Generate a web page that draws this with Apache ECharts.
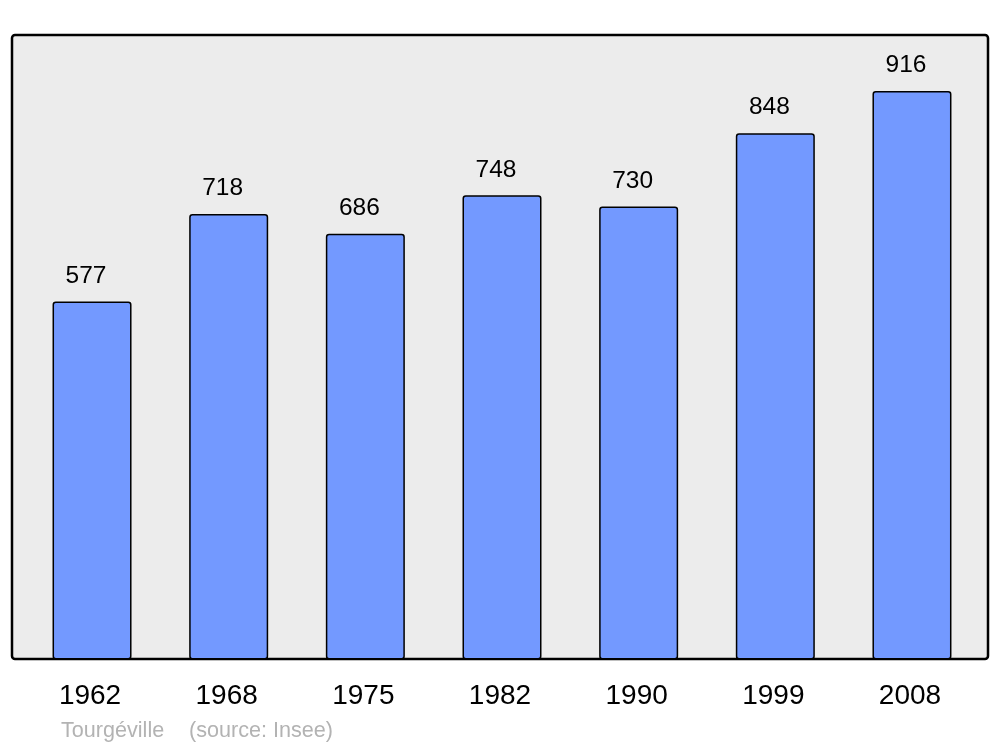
<!DOCTYPE html>
<html>
<head>
<meta charset="utf-8">
<script src="https://cdn.jsdelivr.net/npm/echarts@6/dist/echarts.min.js"></script>
<style>html,body{margin:0;padding:0;background:#fff}#c{width:1000px;height:747px}</style>
</head>
<body>
<div id="c"></div>
<script>
const years = ['1962', '1968', '1975', '1982', '1990', '1999', '2008'];
const population = [577, 718, 686, 748, 730, 848, 916];
const place = 'Tourgéville';
const source = '(source: Insee)';

const chart = echarts.init(document.getElementById('c'), null, {renderer: 'canvas'});
const font = '"Liberation Sans", Arial, sans-serif';
chart.setOption({
  animation: false,
  backgroundColor: '#ffffff',
  grid: {left: 23.7, right: 19.7, top: 38.9, bottom: 87.5},
  graphic: [
    {type: 'rect', z: 0, shape: {x: 12, y: 35, width: 976, height: 624, r: 3},
     style: {fill: '#ececec', stroke: '#000000', lineWidth: 2.5}},
    {type: 'text', z: 5, left: 61, top: 720,
     style: {text: place, fill: '#b3b3b3', font: '21.6px ' + font}},
    {type: 'text', z: 5, left: 189, top: 720,
     style: {text: source, fill: '#b3b3b3', font: '21.6px ' + font}}
  ],
  xAxis: {
    type: 'category', data: years,
    axisLine: {show: false}, axisTick: {show: false}, splitLine: {show: false},
    axisLabel: {color: '#000', fontSize: 28, fontFamily: font, margin: 23, padding: [0, 4, 0, 0]}
  },
  yAxis: {type: 'value', min: 0, max: 1000, show: false, splitLine: {show: false}},
  series: [{
    type: 'bar', data: population, barWidth: 79, z: 2,
    itemStyle: {color: '#7399ff', borderColor: '#000', borderWidth: 1.5, borderRadius: 2.5},
    label: {show: true, position: 'top', distance: 13, offset: [-6, 0], color: '#000', fontSize: 24.5, fontFamily: font}
  }]
});
</script>
</body>
</html>
